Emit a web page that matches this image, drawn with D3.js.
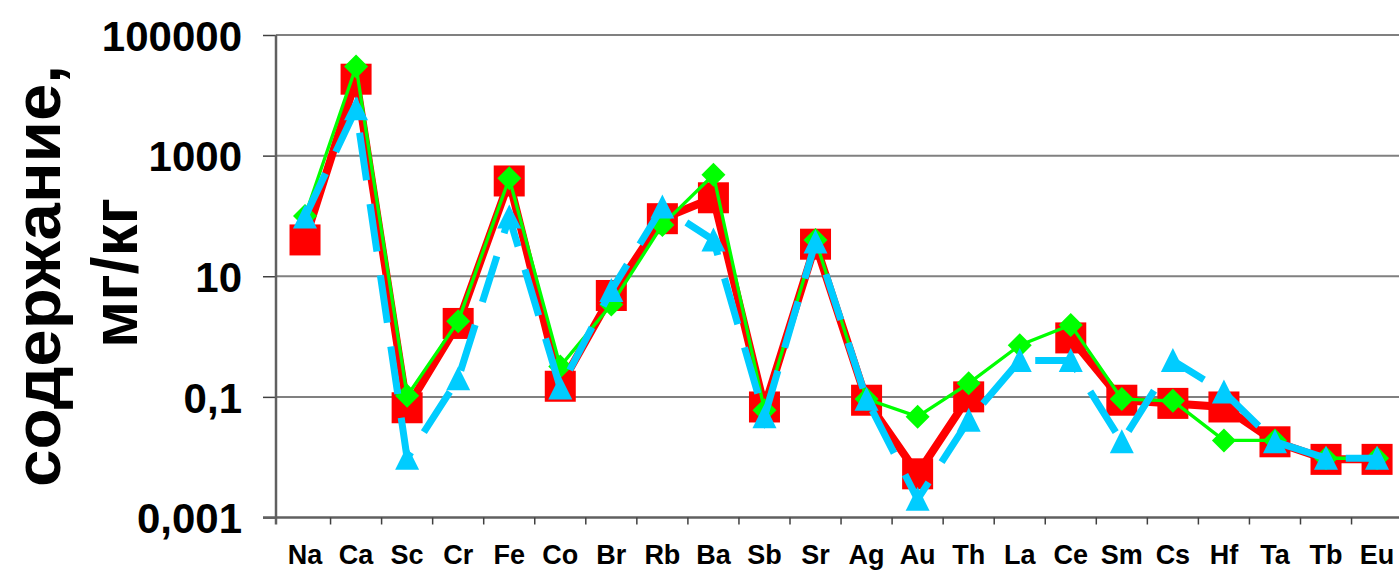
<!DOCTYPE html>
<html>
<head>
<meta charset="utf-8">
<script src="https://cdn.jsdelivr.net/npm/d3@7/dist/d3.min.js"></script>
<style>
  html, body { margin: 0; padding: 0; background: #fff; }
  svg { display: block; }
  text { font-family: "Liberation Sans", Arial, sans-serif; font-weight: bold; fill: #000; }
</style>
</head>
<body>
<svg id="chart" width="1399" height="571"></svg>
<script>
const categories = ["Na","Ca","Sc","Cr","Fe","Co","Br","Rb","Ba","Sb","Sr","Ag","Au","Th","La","Ce","Sm","Cs","Hf","Ta","Tb","Eu"];
const redValues   = [40, 18500, 0.066, 1.65, 380, 0.15, 4.8, 90, 200, 0.068, 34, 0.088, 0.0053, 0.1, null, 0.95, 0.088, 0.078, 0.068, 0.018, 0.0092, 0.0092];
const greenValues = [100, 30000, 0.104, 1.8, 420, 0.32, 3.4, 71, 480, 0.06, 40, 0.092, 0.047, 0.168, 0.72, 1.56, 0.092, 0.086, 0.019, 0.019, 0.0096, 0.0096];
const cyanValues  = [96, 6000, 0.0096, 0.2, 96, 0.14, 5.8, 140, 40, 0.047, 37, 0.091, 0.002, 0.041, 0.4, 0.4, 0.018, 0.4, 0.12, 0.018, 0.0096, 0.0096];
const yTickValues = [0.001, 0.1, 10, 1000, 100000];
const yTickLabels = ["0,001", "0,1", "10", "1000", "100000"];
const yTitleLines = ["содержание,", "мг/кг"];

(function () {
const svg = d3.select("#chart");
const axisX = 276, plotTop = 35, plotBottom = 517.5;

const x = d3.scaleBand().domain(categories).range([279.5, 1402.6]);
const y = d3.scaleLog().domain([0.001, 100000]).range([plotBottom, plotTop]);
const cx = c => x(c) + x.bandwidth() / 2;

// gridlines
svg.append("g").selectAll("line").data(yTickValues.slice(1)).join("line")
  .attr("x1", axisX).attr("x2", 1399)
  .attr("y1", d => y(d)).attr("y2", d => y(d))
  .attr("stroke", "#808080").attr("stroke-width", 2);

// y axis
const yAxis = d3.axisLeft(y).tickValues(yTickValues)
  .tickFormat((d, i) => yTickLabels[i]).tickSize(13).tickPadding(21);
const gy = svg.append("g").attr("transform", `translate(${axisX},0)`).call(yAxis);
gy.select(".domain").remove();
gy.selectAll(".tick line").attr("stroke", "#404040").attr("stroke-width", 1.5);
gy.selectAll(".tick text").style("font-size", "42px").attr("dy", "0.36em")
  .style("font-family", '"Liberation Sans", Arial, sans-serif').style("font-weight", "bold").attr("fill", "#000");
svg.append("line").attr("x1", axisX).attr("x2", axisX).attr("y1", plotTop).attr("y2", plotBottom + 7)
  .attr("stroke", "#606060").attr("stroke-width", 2.5);

// x axis
const xAxis = d3.axisBottom(x).tickSize(0).tickPadding(28);
const gx = svg.append("g").attr("transform", `translate(0,${plotBottom})`).call(xAxis);
gx.select(".domain").remove();
gx.selectAll(".tick text").style("font-size", "27px").attr("dy", "0.71em")
  .style("font-family", '"Liberation Sans", Arial, sans-serif').style("font-weight", "bold").attr("fill", "#000");
gx.selectAll(".tick text").attr("y", 27);
svg.append("line").attr("x1", axisX - 13).attr("x2", 1399).attr("y1", plotBottom).attr("y2", plotBottom)
  .attr("stroke", "#606060").attr("stroke-width", 2.5);
const bounds = categories.slice(1).map(c => x(c)).concat([x(categories[categories.length - 1]) + x.bandwidth()]);
svg.append("g").selectAll("line").data(bounds).join("line")
  .attr("x1", d => d).attr("x2", d => d).attr("y1", plotBottom).attr("y2", plotBottom + 7)
  .attr("stroke", "#404040").attr("stroke-width", 1.5);

// y title
svg.append("text").attr("transform", "translate(60,276) rotate(-90)")
  .attr("text-anchor", "middle").style("font-size", "64px")
  .attr("textLength", 422).attr("lengthAdjust", "spacingAndGlyphs").text(yTitleLines[0]);
svg.append("text").attr("transform", "translate(137,273) rotate(-90)")
  .attr("text-anchor", "middle").style("font-size", "64px")
  .attr("textLength", 150).attr("lengthAdjust", "spacingAndGlyphs").text(yTitleLines[1]);

// series
function pts(vals) { return categories.map((c, i) => ({ c, v: vals[i] })); }
const line = d3.line().defined(d => d.v != null).x(d => cx(d.c)).y(d => y(d.v));

// red
const red = pts(redValues);
svg.append("path").datum(red).attr("d", line).attr("fill", "none")
  .attr("stroke", "#FF0000").attr("stroke-width", 8).attr("stroke-linejoin", "miter");
svg.append("g").selectAll("rect").data(red.filter(d => d.v != null)).join("rect")
  .attr("x", d => cx(d.c) - 15.5).attr("y", d => y(d.v) - 15.5)
  .attr("width", 31).attr("height", 31).attr("fill", "#FF0000");

// green
const green = pts(greenValues);
svg.append("path").datum(green).attr("d", line).attr("fill", "none")
  .attr("stroke", "#00FF00").attr("stroke-width", 3.3);
svg.append("g").selectAll("path").data(green).join("path")
  .attr("d", d => { const px = cx(d.c), py = y(d.v), r = 12; return `M${px},${py - r}L${px + r},${py}L${px},${py + r}L${px - r},${py}Z`; })
  .attr("fill", "#00FF00");

// cyan
const cyan = pts(cyanValues);
svg.append("path").datum(cyan).attr("d", line).attr("fill", "none")
  .attr("stroke", "#00CCFF").attr("stroke-width", 7).attr("stroke-dasharray", "48,24");
svg.append("g").selectAll("path").data(cyan).join("path")
  .attr("d", d => { const px = cx(d.c), py = y(d.v); return `M${px},${py - 12.5}L${px + 12},${py + 11.5}L${px - 12},${py + 11.5}Z`; })
  .attr("fill", "#00CCFF");
})();
</script>
</body>
</html>
